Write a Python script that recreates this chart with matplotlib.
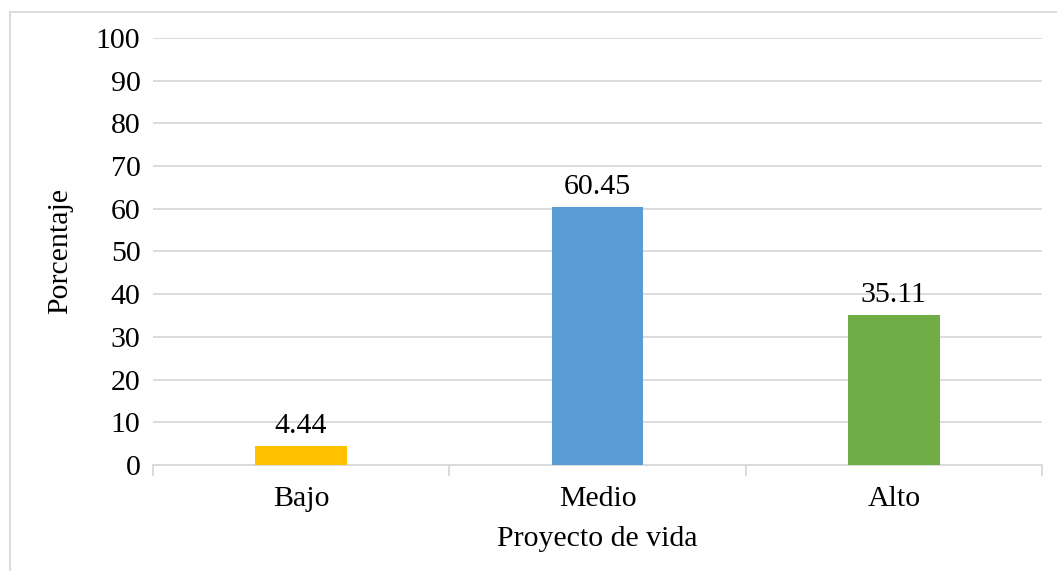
import matplotlib.pyplot as plt
import numpy as np

plt.rcParams.update({'font.family': 'Liberation Serif', 'font.size': 21.5})

categories = ['Bajo', 'Medio', 'Alto']
values = [4.44, 60.45, 35.11]
colors = ['#FFC000', '#5B9BD5', '#70AD47']
yticks = list(range(0, 101, 10))

fig = plt.figure(figsize=(10.57, 5.71), dpi=100)
ax = fig.add_axes([0.1447, 0.1856, 0.8411, 0.7479])

x = np.arange(len(categories))
bars = ax.bar(x, values, width=0.31, color=colors, zorder=3)
for b, v in zip(bars, values):
    ax.annotate(f'{v:.2f}', (b.get_x() + b.get_width() / 2, v), xytext=(0, 5),
                textcoords='offset points', ha='center', va='bottom')

ax.set_xlim(-0.5, len(categories) - 0.5)
ax.set_ylim(0, 100)
ax.set_yticks(yticks)
ax.yaxis.grid(True, color='#D9D9D9', linewidth=1.3, zorder=0)
ax.set_axisbelow(True)

# category boundary ticks on x axis
ax.set_xticks(x)
ax.set_xticklabels(categories)
ax.tick_params(axis='x', length=0, pad=15)
ax.set_xticks(np.arange(-0.5, len(categories)), minor=True)
ax.tick_params(axis='x', which='minor', length=8, color='#D9D9D9', width=1.3)
ax.tick_params(axis='y', length=0, pad=9)

for s in ['top', 'right', 'left']:
    ax.spines[s].set_visible(False)
ax.spines['bottom'].set_color('#D9D9D9')
ax.spines['bottom'].set_linewidth(1.3)

ax.set_ylabel('Porcentaje', labelpad=16)
ax.set_xlabel('Proyecto de vida', labelpad=10)

# outer chart frame (left and top edges visible)
fig.add_artist(plt.Line2D([10 / 1057, 10 / 1057], [0, 1 - 12 / 571], color='#D9D9D9', lw=1.3))
fig.add_artist(plt.Line2D([10 / 1057, 1], [1 - 12 / 571, 1 - 12 / 571], color='#D9D9D9', lw=1.3))

fig.savefig('out.png', dpi=100)
